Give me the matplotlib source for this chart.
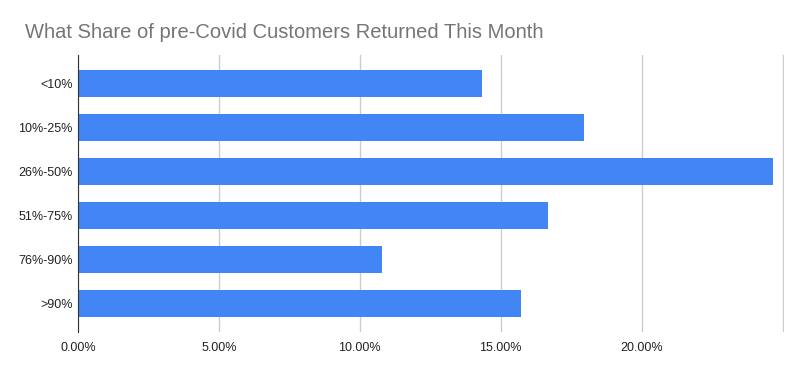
import matplotlib.pyplot as plt

# Share of respondents by share of pre-Covid customers returned
categories = ["<10%", "10%-25%", "26%-50%", "51%-75%", "76%-90%", ">90%"]
shares = [14.33, 17.94, 24.65, 16.67, 10.78, 15.71]
tick_values = [0, 5, 10, 15, 20, 25]
tick_labels = ["0.00%", "5.00%", "10.00%", "15.00%", "20.00%", ""]

plt.rcParams["font.family"] = ["Liberation Sans", "DejaVu Sans"]

fig = plt.figure(figsize=(8.02, 3.71), dpi=100)
ax = fig.add_axes([0.0973, 0.105, 0.8803, 0.747])

ax.barh(range(len(categories)), shares, height=0.63, color="#4285F4", zorder=3)

ax.set_xlim(0, 25.05)
ax.set_ylim(len(categories) - 0.35, -0.65)
ax.set_yticks(range(len(categories)))
ax.set_yticklabels(categories)
ax.set_xticks(tick_values)
ax.set_xticklabels(tick_labels)
ax.tick_params(axis="both", length=0, labelsize=9, colors="#222222")
ax.tick_params(axis="y", pad=4)
ax.tick_params(axis="x", pad=7)

ax.grid(axis="x", color="#cccccc", linewidth=1, zorder=0)
for side in ["top", "right", "bottom"]:
    ax.spines[side].set_visible(False)
ax.spines["left"].set_color("#333333")
ax.spines["left"].set_zorder(4)

fig.text(0.031, 0.913, "What Share of pre-Covid Customers Returned This Month",
         fontsize=14.5, color="#757575", va="center")

fig.savefig("out.png", dpi=100)
